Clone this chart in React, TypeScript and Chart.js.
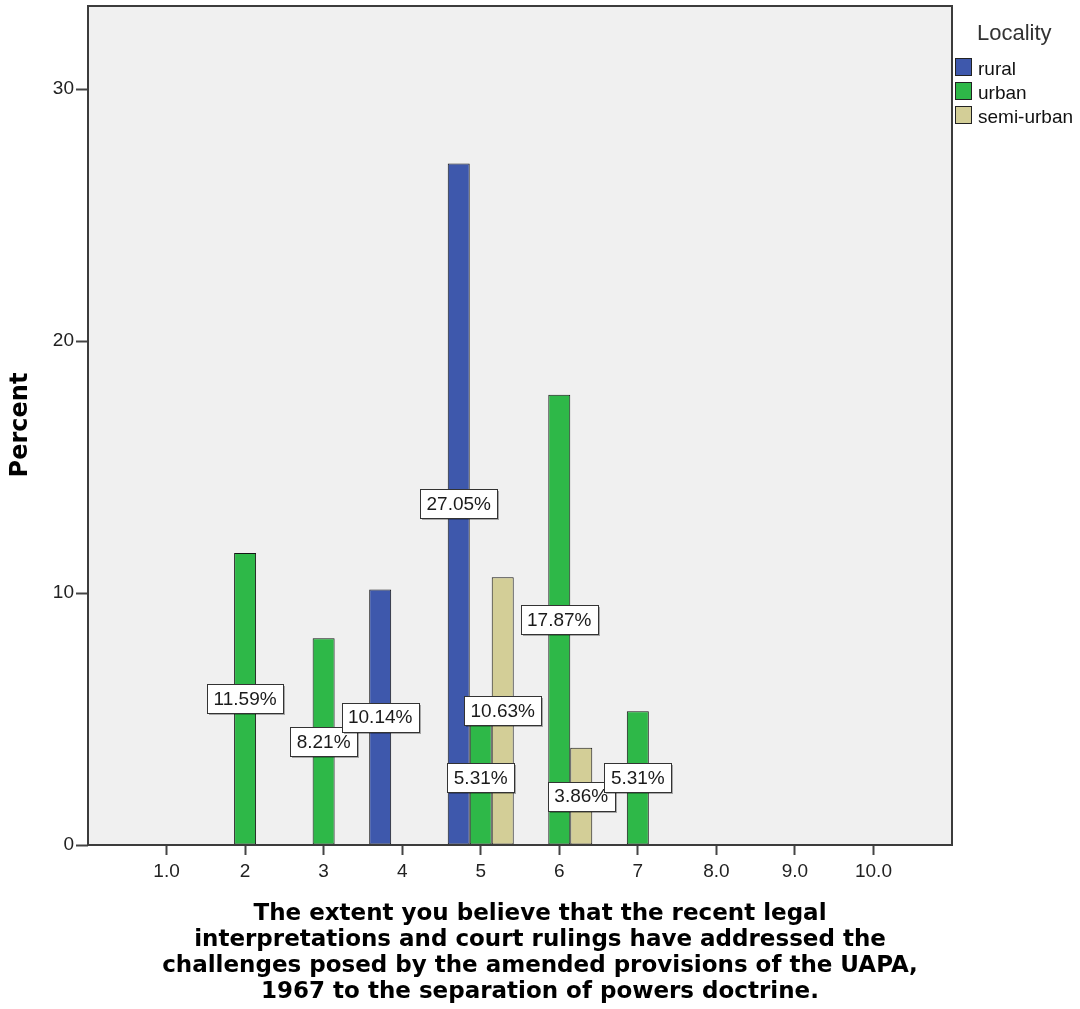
import React, { useEffect, useRef } from 'react';
import { Chart, registerables } from 'chart.js';

Chart.register(...registerables);

// ---- data ----
const categories: string[] = ['', '1.0', '2', '3', '4', '5', '6', '7', '8.0', '9.0', '10.0', ''];
const rural: (number | null)[] = [null, null, null, null, 10.14, 27.05, null, null, null, null, null, null];
const urban: (number | null)[] = [null, null, 11.59, 8.21, null, 5.31, 17.87, 5.31, null, null, null, null];
const semiUrban: (number | null)[] = [null, null, null, null, null, 10.63, 3.86, null, null, null, null, null];
const seriesNames: string[] = ['rural', 'urban', 'semi-urban'];
const seriesColors: string[] = ['#3E58AC', '#2EB848', '#D3CE97'];
const yTicks: number[] = [0, 10, 20, 30];
const yMax = 33.3;
const legendTitle = 'Locality';
const yTitle = 'Percent';
const xTitleLines: string[] = [
  'The extent you believe that the recent legal',
  'interpretations and court rulings have addressed the',
  'challenges posed by the amended provisions of the UAPA,',
  '1967 to the separation of powers doctrine.',
];

const SANS = '"Liberation Sans", Arial, sans-serif';
const BOLD = '"DejaVu Sans", Verdana, sans-serif';

const decorPlugin = {
  id: 'decor',
  beforeDraw(chart: any) {
    const { ctx, chartArea: a } = chart;
    ctx.save();
    ctx.fillStyle = '#ffffff';
    ctx.fillRect(0, 0, chart.width, chart.height);
    ctx.fillStyle = '#F0F0F0';
    ctx.fillRect(a.left, a.top, a.right - a.left, a.bottom - a.top);
    ctx.restore();
  },
  afterDatasetsDraw(chart: any) {
    const { ctx, chartArea: a } = chart;
    ctx.save();
    // plot frame
    ctx.strokeStyle = '#3c3c3c';
    ctx.lineWidth = 2;
    ctx.strokeRect(a.left, a.top, a.right - a.left, a.bottom - a.top);

    // data labels
    ctx.font = '19px ' + SANS;
    ctx.textAlign = 'center';
    ctx.textBaseline = 'middle';
    const n = chart.data.labels.length;
    for (let i = 0; i < n; i++) {
      chart.data.datasets.forEach((ds: any, di: number) => {
        const v = ds.data[i];
        if (v === null || v === undefined) return;
        const el = chart.getDatasetMeta(di).data[i] as any;
        const x = el.x;
        const y = (el.y + el.base) / 2;
        const text = v.toFixed(2) + '%';
        const w = Math.round(ctx.measureText(text).width + 13);
        const h = 29;
        const lx = Math.round(x - w / 2) + 0.5;
        const ly = Math.round(y - h / 2) + 0.5;
        ctx.fillStyle = 'rgba(0,0,0,0.3)';
        ctx.fillRect(lx + 1.5, ly + 1.5, w, h);
        ctx.fillStyle = '#ffffff';
        ctx.fillRect(lx, ly, w, h);
        ctx.strokeStyle = '#333333';
        ctx.lineWidth = 1;
        ctx.strokeRect(lx, ly, w, h);
        ctx.fillStyle = '#1a1a1a';
        ctx.fillText(text, x, y + 1);
      });
    }
    ctx.restore();
  },
  afterDraw(chart: any) {
    const { ctx } = chart;
    ctx.save();
    // y title
    ctx.fillStyle = '#000';
    ctx.font = 'bold 24px ' + BOLD;
    ctx.textAlign = 'center';
    ctx.textBaseline = 'middle';
    ctx.translate(21, 425);
    ctx.rotate(-Math.PI / 2);
    ctx.fillText(yTitle, 0, 0);
    ctx.restore();

    ctx.save();
    ctx.fillStyle = '#000';
    ctx.font = 'bold 23px ' + BOLD;
    ctx.textAlign = 'center';
    ctx.textBaseline = 'middle';
    xTitleLines.forEach((line, i) => {
      ctx.fillText(line, 540, 914 + i * 26);
    });

    // legend
    ctx.textAlign = 'left';
    ctx.textBaseline = 'alphabetic';
    ctx.fillStyle = '#333';
    ctx.font = '22px ' + SANS;
    ctx.fillText(legendTitle, 977, 40);
    ctx.font = '19px ' + SANS;
    seriesNames.forEach((name, i) => {
      const by = 58 + i * 24;
      ctx.fillStyle = seriesColors[i];
      ctx.fillRect(955.5, by + 0.5, 16, 17);
      ctx.strokeStyle = '#222';
      ctx.lineWidth = 1;
      ctx.strokeRect(955.5, by + 0.5, 16, 17);
      ctx.fillStyle = '#111';
      ctx.fillText(name, 978, by + 17);
    });
    ctx.restore();
  },
};

export default function App() {
  const canvasRef = useRef<HTMLCanvasElement | null>(null);

  useEffect(() => {
    document.body.style.margin = '0';
    const canvas = canvasRef.current;
    if (!canvas) return;
    const datasets = [rural, urban, semiUrban].map((d, i) => ({
      label: seriesNames[i],
      data: d,
      backgroundColor: seriesColors[i],
      borderColor: '#151515',
      borderWidth: 1,
      borderSkipped: false as const,
      categoryPercentage: 0.84,
      barPercentage: 1.0,
    }));
    const chart = new Chart(canvas, {
      type: 'bar',
      data: { labels: categories, datasets },
      options: {
        animation: false,
        responsive: true,
        maintainAspectRatio: false,
        layout: { padding: { top: 6, right: 128, left: 0, bottom: 0 } },
        plugins: { legend: { display: false }, tooltip: { enabled: false } },
        scales: {
          x: {
            type: 'category',
            offset: false,
            border: { display: false },
            grid: {
              offset: false,
              drawOnChartArea: false,
              drawTicks: true,
              tickLength: 10,
              tickWidth: 2,
              tickColor: (c: any) => (c.index === 0 || c.index === categories.length - 1 ? 'rgba(0,0,0,0)' : '#444'),
            },
            ticks: {
              autoSkip: false,
              maxRotation: 0,
              padding: 5,
              color: '#222',
              font: { size: 19, family: SANS },
            },
            afterFit: (s: any) => {
              s.height = 164;
              s.paddingLeft = 0;
              s.paddingRight = 0;
            },
          },
          y: {
            min: 0,
            max: yMax,
            border: { display: false },
            grid: {
              drawOnChartArea: false,
              drawTicks: true,
              tickLength: 12,
              tickWidth: 2,
              tickColor: '#444',
            },
            ticks: {
              padding: 2,
              color: '#222',
              font: { size: 19, family: SANS },
            },
            afterBuildTicks: (s: any) => {
              s.ticks = yTicks.map((v) => ({ value: v }));
            },
            afterFit: (s: any) => {
              s.width = 88;
              s.paddingTop = 0;
              s.paddingBottom = 0;
            },
          },
        },
      },
      plugins: [decorPlugin],
    } as any);
    return () => chart.destroy();
  }, []);

  return (
    <div style={{ position: 'relative', width: '1080px', height: '1009px' }}>
      <canvas ref={canvasRef} />
    </div>
  );
}
